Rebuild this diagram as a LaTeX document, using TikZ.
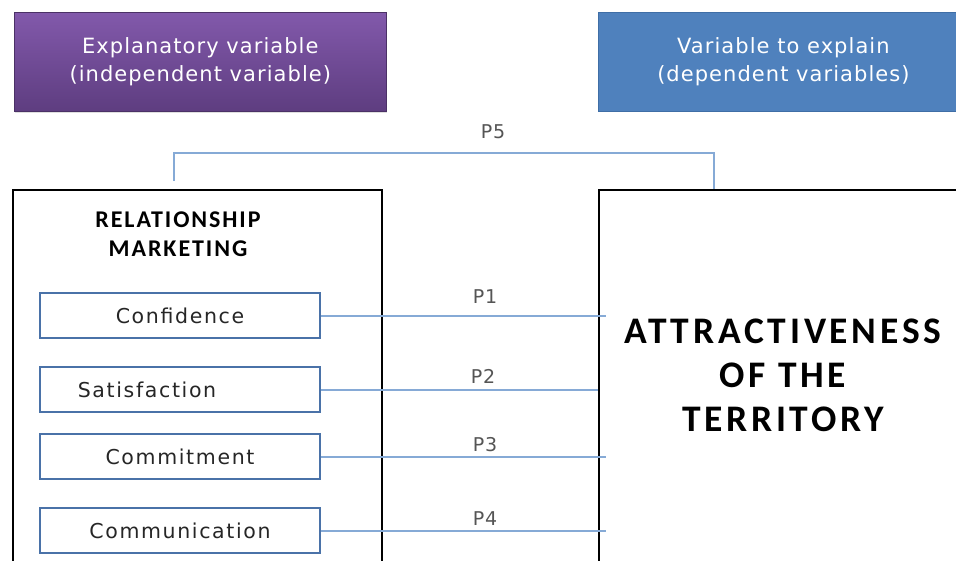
\documentclass[tikz,border=0pt]{standalone}
\usepackage{fontspec}
\setmainfont{DejaVu Sans}
\newfontfamily\wide{DejaVu Sans}[LetterSpace=5]
\newfontfamily\wider{DejaVu Sans}[LetterSpace=8]
\newfontfamily\calibA{Carlito}[LetterSpace=8]
\newfontfamily\calibB{Carlito}[LetterSpace=10]
\usetikzlibrary{shadows}
\definecolor{purpT}{HTML}{8259AB}
\definecolor{purpB}{HTML}{5E3D80}
\definecolor{hblue}{HTML}{4F81BD}
\definecolor{hblueD}{HTML}{3F6EA6}
\definecolor{lnblue}{HTML}{86AAD6}
\definecolor{bxblue}{HTML}{4A72A8}
\definecolor{plab}{HTML}{555555}
\tikzset{
  headbox/.style={anchor=north west, minimum width=372pt, minimum height=99pt, inner sep=0pt,
    align=center, font=\wide\fontsize{21}{28}\selectfont, text=white},
  bigbox/.style={draw=black, line width=2.2pt, anchor=north west, inner sep=0pt},
  sbox/.style={draw=bxblue, line width=2pt, anchor=north west, minimum width=280pt,
    minimum height=45pt, inner sep=0pt, font=\wider\fontsize{20.5}{22}\selectfont, text=black!85},
  conn/.style={draw=lnblue, line width=2pt},
  plabel/.style={text=plab, font=\wide\fontsize{19}{20}\selectfont, inner sep=0pt}
}
\begin{document}
\begin{tikzpicture}[x=1pt,y=-1pt]
\useasboundingbox (0,0) rectangle (956,560);
\clip (0,0) rectangle (956,560);
% header boxes
\node[headbox, top color=purpT, bottom color=purpB, draw=purpB!80!black, line width=0.6pt,
  drop shadow={opacity=0.25, shadow xshift=1pt, shadow yshift=-2pt}] (expl) at (14,12)
  {Explanatory variable\\(independent variable)};
\node[headbox, fill=hblue, draw=hblueD, line width=0.8pt, minimum width=370pt] (dep) at (598,12)
  {Variable to explain\\(dependent variables)};
% big boxes
\node[bigbox, minimum width=369pt, minimum height=420pt] (lbox) at (12,189) {};
\node[bigbox, minimum width=400pt, minimum height=420pt] (rbox) at (598,189) {};
\node[font=\calibA\bfseries\fontsize{24}{29}\selectfont, align=center, inner sep=0pt] (rm) at (178,234)
  {RELATIONSHIP\\MARKETING};
\node[font=\calibB\bfseries\fontsize{37.5}{44}\selectfont, align=center, inner sep=0pt] (att) at (783,375)
  {ATTRACTIVENESS\\OF THE\\TERRITORY};
% small boxes
\node[sbox] (s1) at (39,292) {Confidence};
\node[sbox] (s2) at (39,366) {Satisfaction\kern66pt};
\node[sbox] (s3) at (39,433) {Commitment};
\node[sbox] (s4) at (39,507) {Communication};
% connectors
\coordinate (rend) at (606,0);
\draw[conn] (s1.east) -- (s1.east -| rend);
\draw[conn] (s2.east) -- (s2.east -| rbox.west);
\draw[conn] (s3.east) -- (s3.east -| rend);
\draw[conn] (s4.east) -- (s4.east -| rend);
\node[plabel] (p1) at (485,297) {P1};
\node[plabel] (p2) at (483,376) {P2};
\node[plabel] (p3) at (485,445) {P3};
\node[plabel] (p4) at (485,519) {P4};
% P5
\coordinate (p5a) at (174,181);
\coordinate (p5b) at (714,189);
\draw[conn, line width=1.6pt] (p5a) -- (174,153) -- (714,153) -- (p5b);
\node[plabel] (p5) at (493,132) {P5};
\end{tikzpicture}
\end{document}
